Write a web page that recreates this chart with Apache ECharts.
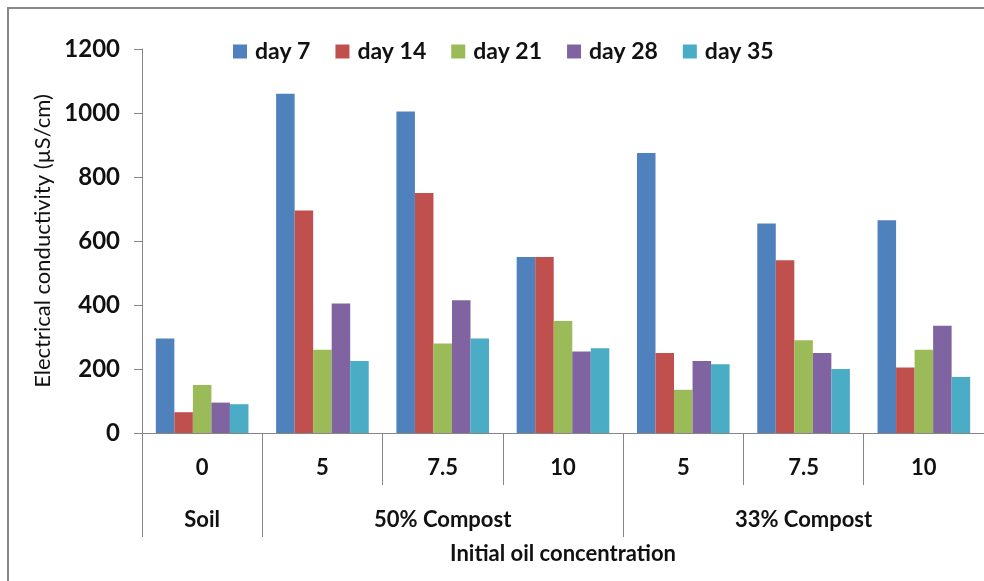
<!DOCTYPE html>
<html>
<head>
<meta charset="utf-8">
<script src="https://cdn.jsdelivr.net/npm/echarts@6/dist/echarts.min.js"></script>
<style>
  html, body { margin: 0; padding: 0; background: #fff; }
  #echart { width: 984px; height: 581px; }
</style>
</head>
<body>
<div id="echart"></div>
<script>
// oil concentration categories and their groups
var categories = ['0', '5', '7.5', '10', '5', '7.5', '10'];
var groupLabels = ['Soil', '', '50% Compost', '', '', '33% Compost', ''];
var groupStarts = [0, 1, 4];

// electrical conductivity (µS/cm) per sampling day
var day7  = [295, 1060, 1005, 550, 875, 655, 665];
var day14 = [65, 695, 750, 550, 250, 540, 205];
var day21 = [150, 260, 280, 350, 135, 290, 260];
var day28 = [95, 405, 415, 255, 225, 250, 335];
var day35 = [90, 225, 295, 265, 215, 200, 175];

var seriesNames = ['day 7', 'day 14', 'day 21', 'day 28', 'day 35'];
var seriesData = [day7, day14, day21, day28, day35];
var colors = ['#4F81BD', '#C0504D', '#9BBB59', '#8064A2', '#4BACC6'];

var yTicks = [0, 200, 400, 600, 800, 1000, 1200];

var font = 'Lato';
var axisColor = '#868686';
var textColor = '#111';

var myChart = echarts.init(document.getElementById('echart'));

var series = [];
for (let i = 0; i < seriesNames.length; i++) {
    series.push({
        name: seriesNames[i],
        type: 'bar',
        data: seriesData[i],
        barGap: 0,
        barCategoryGap: '23%',
        itemStyle: { color: colors[i] }
    });
}

var option = {
    animation: false,
    textStyle: { fontFamily: font },
    // outer frame of the chart area
    graphic: [{
        type: 'rect',
        shape: { x: 8, y: 8, width: 1000, height: 600 },
        style: { fill: 'none', stroke: '#888', lineWidth: 2 },
        silent: true
    }],
    legend: {
        data: seriesNames,
        left: 228,
        top: 35,
        itemWidth: 14,
        itemHeight: 14,
        itemGap: 25,
        icon: 'rect',
        textStyle: { fontFamily: font, fontSize: 23, fontWeight: 'bold', color: textColor, padding: [0, 0, 0, 3] }
    },
    grid: { left: 142, right: 0, top: 49, bottom: 148, containLabel: false },
    xAxis: [{
        type: 'category',
        data: categories,
        position: 'bottom',
        name: 'Initial oil concentration',
        nameLocation: 'middle',
        nameGap: 110,
        nameTextStyle: { fontFamily: font, fontSize: 22, fontWeight: 'bold', color: textColor },
        axisLine: { lineStyle: { color: axisColor, width: 1 } },
        axisTick: { show: true, length: 52, interval: 0, lineStyle: { color: axisColor } },
        axisLabel: { interval: 0, margin: 24, fontFamily: font, fontSize: 22, fontWeight: 'bold', color: textColor }
    }, {
        // group row: long dividers + group names
        type: 'category',
        data: categories,
        position: 'bottom',
        axisLine: { show: false },
        axisTick: {
            show: true,
            length: 104,
            interval: function (i) { return groupStarts.indexOf(i) >= 0; },
            lineStyle: { color: axisColor }
        },
        axisLabel: {
            interval: 0,
            margin: 76,
            fontFamily: font,
            fontSize: 22,
            fontWeight: 'bold',
            color: textColor,
            formatter: function (v, i) { return groupLabels[i]; }
        }
    }],
    yAxis: {
        type: 'value',
        min: yTicks[0],
        max: yTicks[yTicks.length - 1],
        interval: 200,
        name: 'Electrical conductivity (µS/cm)',
        nameLocation: 'middle',
        nameGap: 88,
        nameTextStyle: { fontFamily: font, fontSize: 22, color: textColor },
        axisLine: { show: true, lineStyle: { color: axisColor } },
        axisTick: { show: true, length: 8, lineStyle: { color: axisColor } },
        splitLine: { show: false },
        axisLabel: {
            margin: 22, fontFamily: font, fontSize: 24, fontWeight: 'bold', color: textColor,
            formatter: function (v) { return String(v); }
        }
    },
    series: series
};

myChart.setOption(option);
</script>
</body>
</html>
